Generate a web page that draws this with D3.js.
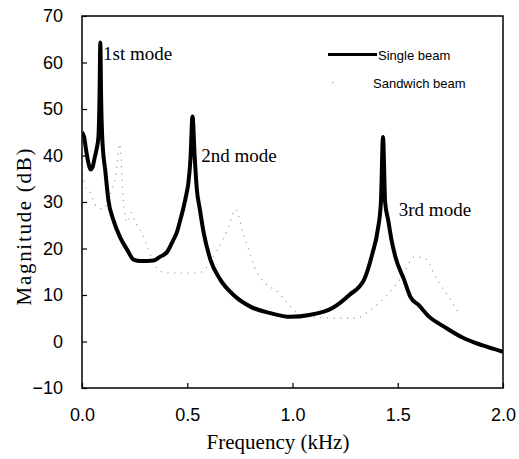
<!DOCTYPE html>
<html>
<head>
<meta charset="utf-8">
<script src="https://cdn.jsdelivr.net/npm/d3@7/dist/d3.min.js"></script>
<style>
  html, body { margin: 0; padding: 0; background: #fff; }
  svg { display: block; }
</style>
</head>
<body>
<svg id="chart" width="519" height="459"></svg>
<script>
// ---------- data ----------
const xTicks = [0.0, 0.5, 1.0, 1.5, 2.0];
const yTicks = [-10, 0, 10, 20, 30, 40, 50, 60, 70];

// Single beam (frequency kHz, magnitude dB)
const singleFreq = [0.0, 0.01, 0.02, 0.03, 0.04, 0.05, 0.06, 0.07, 0.078, 0.083, 0.087, 0.091, 0.096, 0.1, 0.11, 0.125,
  0.15, 0.18, 0.215, 0.245, 0.28, 0.31, 0.34, 0.37, 0.405, 0.43, 0.45, 0.465, 0.48, 0.495, 0.505, 0.515, 0.525,
  0.535, 0.545, 0.56, 0.578, 0.61, 0.657, 0.72, 0.8, 0.895, 0.99, 1.08, 1.19, 1.27, 1.34, 1.38, 1.405, 1.42, 1.43,
  1.44, 1.455, 1.47, 1.49, 1.53, 1.56, 1.6, 1.65, 1.72, 1.81, 1.9, 2.0];
const singleDb = [45, 44, 41, 38.5, 37, 37.5, 39.5, 41.5, 44, 52, 64.3, 52, 44, 41, 37, 30.5,
  26, 22.5, 19.7, 17.6, 17.3, 17.3, 17.4, 18.2, 19.3, 21.5, 23.4, 25.8, 28.4, 31.5, 34, 39, 48.4,
  40, 33, 28.4, 23.4, 17.6, 13.3, 10, 7.5, 6.1, 5.3, 5.7, 7.2, 10, 13.3, 19, 24, 30, 44,
  30, 26, 21.9, 18, 13.3, 9.6, 7.8, 5.3, 3.2, 0.8, -0.8, -2.2];

// Sandwich beam
const sandFreq = [0.0, 0.02, 0.04, 0.06, 0.1, 0.14, 0.16, 0.18, 0.195, 0.215, 0.235, 0.25, 0.285, 0.31, 0.34, 0.38,
  0.45, 0.53, 0.57, 0.62, 0.67, 0.7, 0.73, 0.765, 0.79, 0.82, 0.87, 0.93, 0.97, 1.04, 1.1, 1.2, 1.3, 1.37,
  1.45, 1.52, 1.58, 1.64, 1.67, 1.75, 1.79];
const sandDb = [36, 33, 32, 29.5, 28.5, 32.5, 35.5, 42.5, 31, 25.6, 27.7, 26, 23.3, 20.4, 17, 15,
  14.7, 14.7, 15, 18, 21.9, 25.1, 28.4, 23.4, 20, 16, 12.5, 10.7, 8.5, 5.7, 5.3, 5, 5, 6.8,
  10, 14, 18.2, 17.6, 14.7, 9, 6];

const seriesNames = ["Single beam", "Sandwich beam"];
const modeLabels = [
  {text: "1st mode", f: 0.1, db: 60.6},
  {text: "2nd mode", f: 0.567, db: 38.6},
  {text: "3rd mode", f: 1.505, db: 27}
];

// ---------- layout ----------
const svg = d3.select("#chart");
const mLeft = 82, mRight = 503, mTop = 16, mBottom = 388;
const x = d3.scaleLinear().domain([0, 2]).range([mLeft, mRight]);
const y = d3.scaleLinear().domain([-10, 70]).range([mBottom, mTop]);

const serif = "'Liberation Serif', 'Times New Roman', serif";
const sans = "'Liberation Sans', Arial, sans-serif";

svg.append("defs").append("clipPath").attr("id", "clip")
  .append("rect").attr("x", mLeft).attr("y", mTop).attr("width", mRight - mLeft).attr("height", mBottom - mTop);

const sandData = sandFreq.map((f, i) => [f, sandDb[i]]);
const singleData = singleFreq.map((f, i) => [f, singleDb[i]]);
const line = d3.line().x(d => x(d[0])).y(d => y(d[1])).curve(d3.curveMonotoneX);

svg.append("path").datum(sandData)
  .attr("clip-path", "url(#clip)")
  .attr("d", line)
  .attr("fill", "none")
  .attr("stroke", "#a8a8a8")
  .attr("stroke-width", 1.3)
  .attr("stroke-dasharray", "1.2,5.5");

svg.append("path").datum(singleData)
  .attr("clip-path", "url(#clip)")
  .attr("d", line)
  .attr("fill", "none")
  .attr("stroke", "#000")
  .attr("stroke-width", 4)
  .attr("stroke-linejoin", "round");

const xAxis = d3.axisBottom(x).tickValues(xTicks).tickFormat(d3.format(".1f"))
  .tickSizeInner(-5).tickSizeOuter(0).tickPadding(20);
const yAxis = d3.axisLeft(y).tickValues(yTicks).tickFormat(d3.format("d"))
  .tickSizeInner(-5).tickSizeOuter(0).tickPadding(19);

const gx = svg.append("g").attr("transform", `translate(0,${mBottom})`).call(xAxis);
const gy = svg.append("g").attr("transform", `translate(${mLeft},0)`).call(yAxis);
[gx, gy].forEach(g => {
  g.select(".domain").remove();
  g.selectAll("line").attr("stroke", "#000").attr("stroke-width", 1.2);
  g.selectAll("text").attr("font-family", sans).attr("font-size", 18).attr("fill", "#000");
});

svg.append("rect").attr("x", mLeft).attr("y", mTop).attr("width", mRight - mLeft).attr("height", mBottom - mTop)
  .attr("fill", "none").attr("stroke", "#000").attr("stroke-width", 1.5);

svg.append("text").attr("x", 278).attr("y", 449).attr("text-anchor", "middle")
  .attr("font-family", serif).attr("font-size", 21).text("Frequency (kHz)");
svg.append("text").attr("transform", "translate(31,227) rotate(-90)").attr("text-anchor", "middle")
  .attr("font-family", serif).attr("font-size", 21)
  .attr("textLength", 157).attr("lengthAdjust", "spacing").text("Magnitude (dB)");

svg.selectAll(".mode").data(modeLabels).enter().append("text")
  .attr("x", d => x(d.f)).attr("y", d => y(d.db))
  .attr("font-family", serif).attr("font-size", 19).text(d => d.text);

const lg = svg.append("g");
lg.append("line").attr("x1", 328).attr("x2", 377).attr("y1", 54.5).attr("y2", 54.5)
  .attr("stroke", "#000").attr("stroke-width", 3);
lg.append("line").attr("x1", 332).attr("x2", 371).attr("y1", 82.5).attr("y2", 82.5)
  .attr("stroke", "#a8a8a8").attr("stroke-width", 1.3).attr("stroke-dasharray", "1.2,37.8");
lg.append("text").attr("x", 378).attr("y", 59.5).attr("font-family", sans).attr("font-size", 13)
  .text(seriesNames[0]);
lg.append("text").attr("x", 373).attr("y", 87.5).attr("font-family", sans).attr("font-size", 13)
  .text(seriesNames[1]);
</script>
</body>
</html>
